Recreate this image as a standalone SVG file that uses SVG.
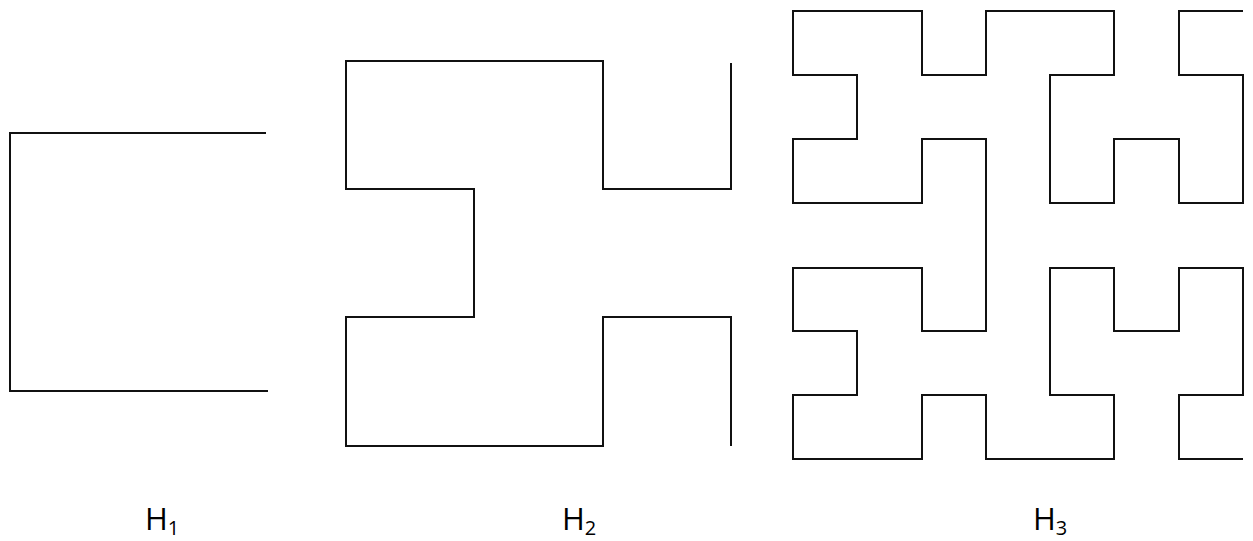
<svg xmlns="http://www.w3.org/2000/svg" width="1253" height="541" viewBox="0 0 1253 541">
  <style>
    .curve { fill: none; stroke: #111; stroke-width: 2; stroke-linejoin: miter; stroke-linecap: butt; }
    .label { font-family: "Open Sans", "Liberation Sans", sans-serif; font-size: 31px; fill: #000; }
    .sub { font-size: 20px; }
  </style>
  <rect width="1253" height="541" fill="#fff"/>

  <!-- First-order curve -->
  <g id="h1">
    <path class="curve" d="M266,133 H10 V391 H268"/>
    <text class="label" x="145" y="530">H<tspan class="sub" dy="5">1</tspan></text>
  </g>

  <!-- Second-order curve -->
  <g id="h2">
    <path class="curve" d="M731,63 V189 H603 V61 H346 V189 H474 V317 H346 V446 H603 V317 H731 V446"/>
    <text class="label" x="562" y="530">H<tspan class="sub" dy="5">2</tspan></text>
  </g>

  <!-- Third-order curve -->
  <g id="h3">
    <path class="curve" d="M1243,11 H1179 V75 H1243 V203 H1179 V139 H1114 V203 H1050 V75 H1114 V11 H986 V75 H922 V11 H793 V75 H857 V139 H793 V203 H922 V139 H986 V331 H922 V268 H793 V331 H857 V395 H793 V459 H922 V395 H986 V459 H1114 V395 H1050 V268 H1114 V331 H1179 V268 H1243 V395 H1179 V459 H1243"/>
    <text class="label" x="1033" y="530">H<tspan class="sub" dy="5">3</tspan></text>
  </g>
</svg>
